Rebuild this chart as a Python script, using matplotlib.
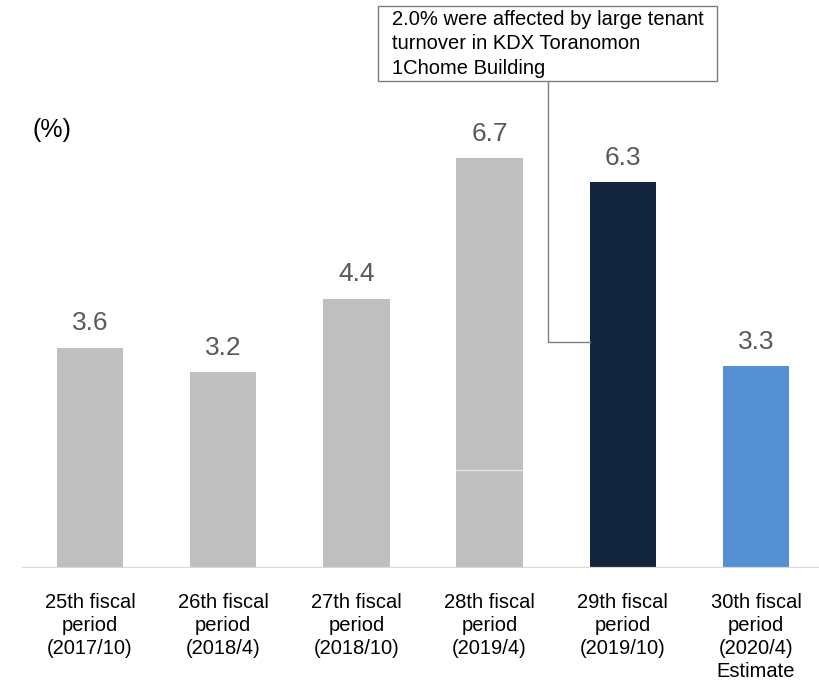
import matplotlib
matplotlib.use("Agg")
import matplotlib.pyplot as plt
import numpy as np
from matplotlib.patches import Rectangle

plt.rcParams['font.family'] = ['Liberation Sans', 'DejaVu Sans']

periods = ["25th fiscal\nperiod\n(2017/10)", "26th fiscal\nperiod\n(2018/4)",
           "27th fiscal\nperiod\n(2018/10)", "28th fiscal\nperiod\n(2019/4)",
           "29th fiscal\nperiod\n(2019/10)", "30th fiscal\nperiod\n(2020/4)\nEstimate"]
rates = [3.6, 3.2, 4.4, 6.7, 6.3, 3.3]
bar_colors = ["#bfbfbf", "#bfbfbf", "#bfbfbf", "#bfbfbf", "#13243f", "#5590d5"]
# segments making up the 28th period bar
seg_28 = [0.9, 0.7, 5.1]
note = "2.0% were affected by large tenant\nturnover in KDX Toranomon\n1Chome Building"

W, H = 820, 683
fig = plt.figure(figsize=(W / 100, H / 100), dpi=100)
ax = fig.add_axes([22 / W, (H - 568) / H, 798 / W, 568 / H])

x = np.arange(len(rates))
width = 0.5
for i, (v, c) in enumerate(zip(rates, bar_colors)):
    if i == 3:
        bottom = 0
        for k, s in enumerate(seg_28):
            ax.bar(x[i], s, width=width, bottom=bottom, color=c, linewidth=0)
            bottom += s
            if k == 1:
                ax.hlines(bottom, x[i] - width / 2, x[i] + width / 2,
                          color="#e4e4e4", lw=1.0, zorder=3)
    else:
        ax.bar(x[i], v, width=width, color=c, linewidth=0)
    ax.text(x[i], v + 0.2, f"{v:.1f}", ha="center", va="bottom",
            fontsize=19, color="#595959")

ax.set_xlim(-0.51, 5.48)
ax.set_ylim(0, 9.28)
for s in ax.spines.values():
    s.set_visible(False)
ax.axhline(0, color="#d9d9d9", lw=1.6, zorder=4)
ax.set_yticks([])
ax.set_xticks(x)
ax.set_xticklabels(periods, fontsize=14.5, color="#000000", va="top",
                   linespacing=1.27)
ax.tick_params(axis="x", length=0, pad=18)

ax.text(-0.43, 7.15, "(%)", fontsize=18, color="#000000", ha="left", va="center")

# callout box with connector to the 29th period bar
box = Rectangle((378 / W, 1 - 81 / H), (717 - 378) / W, (81 - 6) / H,
                transform=fig.transFigure, facecolor="white",
                edgecolor="#7f7f7f", lw=1.0)
fig.add_artist(box)
fig.text(392 / W, 1 - 10 / H, note, fontsize=14.5, ha="left", va="top",
         linespacing=1.36, color="#000000")
xc = x[4] - width / 2 - 0.31
y_box = 9.28 - 81 / 61.2
ax.plot([xc, xc, x[4] - width / 2], [y_box, 3.7, 3.7], color="#7f7f7f",
        lw=1.0, clip_on=False, zorder=1)

fig.savefig("out.png", dpi=100)
